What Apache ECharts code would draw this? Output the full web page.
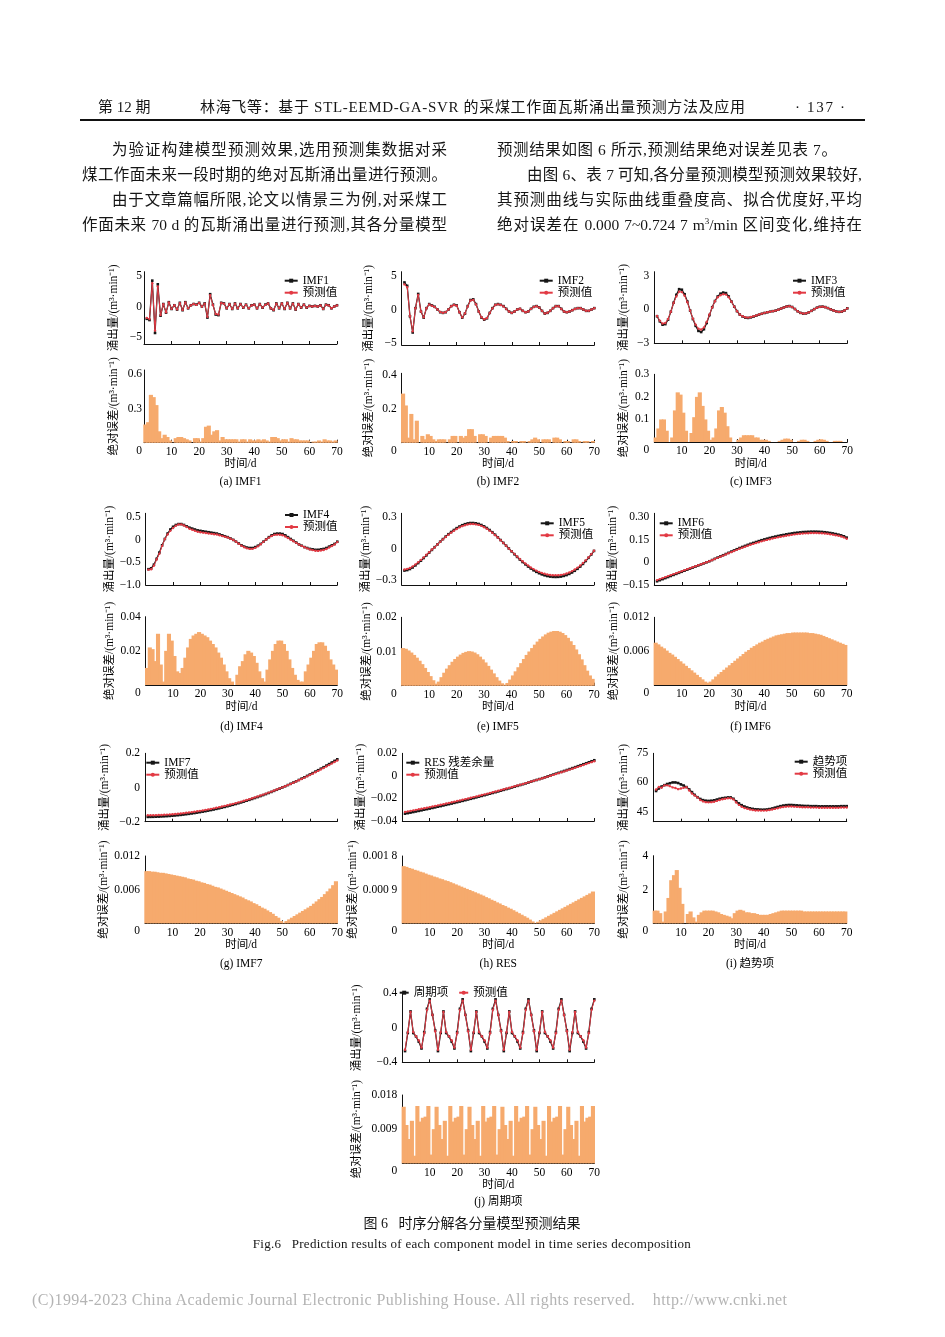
<!DOCTYPE html>
<html><head><meta charset="utf-8">
<script src="https://cdn.jsdelivr.net/npm/echarts@6/dist/echarts.min.js"></script>
<style>
html,body{margin:0;padding:0;background:#fff;}
#page{position:relative;width:945px;height:1337px;overflow:hidden;background:#fff;font-family:'Liberation Serif','Noto Sans CJK SC',serif;color:#151515;}
#chart{position:absolute;left:0;top:0;width:945px;height:1337px;}
.t{position:absolute;white-space:nowrap;line-height:20px;}
.ln{position:absolute;font-size:15.5px;line-height:20px;width:365px;box-sizing:border-box;white-space:nowrap;}
.j{text-align:justify;text-align-last:justify;white-space:normal;}
.ind{padding-left:30px;}
sup{font-size:9px;vertical-align:6px;line-height:0;}
</style></head>
<body><div id="page">
<div id="chart"></div>
<div class="t" style="left:98px;top:97px;font-size:15px;">第 12 期</div>
<div class="t" id="hdTitle" style="left:200px;top:97px;font-size:15px;">林海飞等：基于 STL-EEMD-GA-SVR 的采煤工作面瓦斯涌出量预测方法及应用</div>
<div class="t" id="hdPage" style="left:795px;top:97px;font-size:15px;">· 137 ·</div>
<div style="position:absolute;left:80px;top:119px;width:785px;height:1.6px;background:#111;"></div>

<div class="ln j ind" style="left:82px;top:140px;">为验证构建模型预测效果,选用预测集数据对采</div>
<div class="ln j" style="left:82px;top:165px;">煤工作面未来一段时期的绝对瓦斯涌出量进行预测。</div>
<div class="ln j ind" style="left:82px;top:190px;">由于文章篇幅所限,论文以情景三为例,对采煤工</div>
<div class="ln j" style="left:82px;top:215px;">作面未来 70 d 的瓦斯涌出量进行预测,其各分量模型</div>

<div class="ln" style="left:497px;top:140px;letter-spacing:0.6px;">预测结果如图 6 所示,预测结果绝对误差见表 7。</div>
<div class="ln j ind" style="left:497px;top:165px;">由图 6、表 7 可知,各分量预测模型预测效果较好,</div>
<div class="ln j" style="left:497px;top:190px;">其预测曲线与实际曲线重叠度高、拟合优度好,平均</div>
<div class="ln j" style="left:497px;top:215px;">绝对误差在 0.000 7~0.724 7 m<sup>3</sup>/min 区间变化,维持在</div>

<div class="t" id="figCn" style="top:1214px;font-size:14px;">图 6&nbsp;&nbsp;&nbsp;时序分解各分量模型预测结果</div>
<div class="t" id="figEn" style="top:1234px;font-size:13px;">Fig.6&nbsp;&nbsp;&nbsp;Prediction results of each component model in time series decomposition</div>
<div class="t" id="copy" style="left:32px;top:1290px;font-size:16px;color:#b4b4b4;">(C)1994-2023 China Academic Journal Electronic Publishing House. All rights reserved.&nbsp;&nbsp;&nbsp;&nbsp;http://www.cnki.net</div>
</div>
<script>
// ---------------- data ----------------
const days = [1,2,3,4,5,6,7,8,9,10,11,12,13,14,15,16,17,18,19,20,21,22,23,24,25,26,27,28,29,30,31,32,33,34,35,36,37,38,39,40,41,42,43,44,45,46,47,48,49,50,51,52,53,54,55,56,57,58,59,60,61,62,63,64,65,66,67,68,69,70];

const imf1Actual = [-2.0,-2.2,4.2,-4.3,3.6,-1.5,0.4,-1.0,0.7,-0.4,
 0.2,-0.5,0.6,-0.6,0.7,-0.3,0.2,0.4,0.3,0.6,
 0.0,0.5,-1.8,2.0,0.3,-1.3,-1.4,0.6,0.5,-0.3,
 0.4,-0.4,0.5,-0.3,0.4,-0.2,0.3,-0.3,0.2,0.3,
 -0.3,0.4,-0.2,0.3,0.5,-0.3,-0.6,0.5,-0.3,0.5,
 -0.4,0.6,-0.3,0.5,-0.5,0.4,-0.2,0.3,-0.2,0.1,
 0.0,0.1,0.0,0.2,-0.4,0.3,0.2,-0.3,0.0,0.2];
const imf1Pred = [-1.84,-2.02,3.78,-3.90,3.27,-1.40,0.36,-0.93,0.65,-0.38,
 0.20,-0.46,0.55,-0.55,0.66,-0.27,0.18,0.40,0.26,0.56,
 0.01,0.46,-1.66,1.85,0.23,-1.20,-1.29,0.58,0.45,-0.27,
 0.37,-0.37,0.47,-0.27,0.39,-0.17,0.27,-0.29,0.17,0.28,
 -0.28,0.37,-0.18,0.27,0.48,-0.29,-0.55,0.45,-0.26,0.48,
 -0.37,0.57,-0.29,0.46,-0.47,0.37,-0.18,0.28,-0.18,0.08,
 0.00,0.09,0.01,0.18,-0.39,0.27,0.18,-0.28,0.01,0.18];
const imf1Err = [0.16,0.18,0.42,0.40,0.33,0.10,0.04,0.07,0.05,0.02,
 0.00,0.04,0.05,0.05,0.04,0.03,0.02,0.00,0.04,0.04,
 0.01,0.04,0.14,0.15,0.07,0.10,0.11,0.02,0.05,0.03,
 0.03,0.03,0.03,0.03,0.01,0.03,0.03,0.01,0.03,0.02,
 0.02,0.03,0.02,0.03,0.02,0.01,0.05,0.05,0.04,0.02,
 0.03,0.03,0.01,0.04,0.03,0.03,0.02,0.02,0.02,0.02,
 0.00,0.01,0.01,0.02,0.01,0.03,0.02,0.02,0.01,0.02];

const imf2Actual = [4.0,3.5,-1.0,-3.4,0.2,2.3,-0.3,-1.2,0.2,0.8,
 0.6,0.4,0.0,-0.4,-0.5,-0.4,0.0,0.5,0.7,0.6,
 -0.4,-1.2,-0.6,0.5,1.4,1.5,0.8,-0.3,-1.2,-1.5,
 -1.3,-0.5,0.2,0.7,0.8,0.7,0.5,0.1,-0.3,-0.5,
 -0.3,0.0,0.1,-0.2,-0.4,-0.3,0.1,0.4,0.5,0.3,
 -0.2,-0.6,-0.5,-0.2,0.2,0.5,0.5,0.1,-0.3,-0.4,
 -0.3,-0.1,0.1,0.2,0.2,0.0,-0.2,-0.2,0.0,0.2];
const imf2Pred = [3.71,3.28,-0.97,-3.23,0.18,2.17,-0.30,-1.16,0.18,0.75,
 0.56,0.38,0.01,-0.38,-0.48,-0.38,0.00,0.48,0.66,0.56,
 -0.40,-1.16,-0.57,0.46,1.32,1.42,0.76,-0.30,-1.15,-1.45,
 -1.26,-0.50,0.17,0.66,0.76,0.66,0.46,0.07,-0.29,-0.50,
 -0.29,0.01,0.10,-0.19,-0.39,-0.30,0.09,0.38,0.47,0.28,
 -0.20,-0.58,-0.48,-0.18,0.20,0.47,0.47,0.08,-0.30,-0.39,
 -0.29,-0.10,0.08,0.18,0.19,0.00,-0.19,-0.19,0.00,0.19];
const imf2Err = [0.29,0.22,0.03,0.17,0.02,0.13,0.00,0.04,0.02,0.05,
 0.04,0.02,0.01,0.02,0.02,0.02,0.00,0.02,0.04,0.04,
 0.00,0.04,0.03,0.04,0.08,0.08,0.04,0.00,0.05,0.05,
 0.04,0.00,0.03,0.04,0.04,0.04,0.04,0.03,0.01,0.00,
 0.01,0.01,0.00,0.01,0.01,0.00,0.01,0.02,0.03,0.02,
 0.00,0.02,0.02,0.02,0.00,0.03,0.03,0.02,0.00,0.01,
 0.01,0.00,0.02,0.02,0.01,0.00,0.01,0.01,0.00,0.01];

const imf3Actual = [-0.60,-1.05,-1.35,-1.30,-0.90,-0.20,0.60,1.30,1.80,1.75,
 1.35,0.70,-0.10,-0.85,-1.45,-1.90,-2.00,-1.75,-1.20,-0.50,
 0.20,0.75,1.15,1.40,1.50,1.45,1.15,0.70,0.25,-0.15,
 -0.45,-0.62,-0.72,-0.75,-0.70,-0.63,-0.55,-0.46,-0.38,-0.31,
 -0.25,-0.20,-0.15,-0.10,-0.02,0.08,0.18,0.27,0.30,0.22,
 0.04,-0.16,-0.30,-0.37,-0.35,-0.26,-0.12,0.03,0.16,0.24,
 0.26,0.21,0.12,0.01,-0.09,-0.17,-0.21,-0.19,-0.09,0.10];
const imf3Pred = [-0.58,-0.99,-1.25,-1.20,-0.85,-0.20,0.58,1.16,1.58,1.54,
 1.22,0.65,-0.10,-0.81,-1.34,-1.70,-1.78,-1.59,-1.10,-0.45,
 0.19,0.73,1.09,1.26,1.35,1.32,1.08,0.68,0.25,-0.15,
 -0.44,-0.60,-0.69,-0.72,-0.67,-0.60,-0.53,-0.44,-0.37,-0.30,
 -0.24,-0.20,-0.15,-0.10,-0.02,0.08,0.17,0.26,0.29,0.21,
 0.04,-0.16,-0.30,-0.36,-0.34,-0.26,-0.12,0.03,0.16,0.23,
 0.25,0.20,0.12,0.01,-0.09,-0.17,-0.21,-0.19,-0.09,0.10];
const imf3Err = [0.02,0.06,0.10,0.10,0.05,0.00,0.02,0.14,0.22,0.21,
 0.13,0.05,0.00,0.04,0.11,0.20,0.22,0.16,0.10,0.05,
 0.01,0.02,0.06,0.14,0.155,0.13,0.07,0.02,0.00,0.00,
 0.01,0.02,0.03,0.03,0.03,0.03,0.02,0.02,0.01,0.01,
 0.01,0.005,0.00,0.00,0.00,0.005,0.01,0.015,0.015,0.01,
 0.00,0.00,0.005,0.01,0.01,0.005,0.00,0.00,0.005,0.01,
 0.012,0.01,0.005,0.00,0.00,0.005,0.005,0.005,0.00,0.00];

const imf4Actual = [-0.65,-0.63,-0.55,-0.42,-0.28,-0.12,0.02,0.14,0.23,0.29,
 0.33,0.35,0.35,0.33,0.30,0.27,0.25,0.23,0.21,0.20,
 0.19,0.18,0.17,0.16,0.15,0.14,0.12,0.10,0.08,0.06,
 0.03,0.00,-0.04,-0.08,-0.12,-0.15,-0.17,-0.18,-0.18,-0.16,
 -0.13,-0.09,-0.04,0.01,0.06,0.10,0.13,0.14,0.14,0.13,
 0.10,0.06,0.02,-0.02,-0.06,-0.10,-0.13,-0.16,-0.18,-0.20,
 -0.21,-0.22,-0.22,-0.21,-0.20,-0.18,-0.15,-0.12,-0.09,-0.04];
const imf4Pred = [-0.660,-0.652,-0.571,-0.434,-0.310,-0.132,0.018,0.120,0.200,0.264,
 0.313,0.342,0.343,0.320,0.284,0.248,0.223,0.201,0.180,0.169,
 0.160,0.151,0.142,0.134,0.126,0.118,0.101,0.084,0.068,0.052,
 0.026,-0.002,-0.040,-0.086,-0.131,-0.164,-0.188,-0.200,-0.199,-0.177,
 -0.143,-0.098,-0.044,0.008,0.051,0.085,0.110,0.116,0.114,0.104,
 0.076,0.040,0.005,-0.030,-0.066,-0.103,-0.132,-0.162,-0.188,-0.212,
 -0.226,-0.240,-0.244,-0.235,-0.225,-0.203,-0.170,-0.135,-0.102,-0.049];
const imf4Err = [0.010,0.022,0.021,0.014,0.030,0.012,0.002,0.020,0.030,0.026,
 0.017,0.008,0.007,0.010,0.016,0.022,0.027,0.029,0.030,0.031,
 0.030,0.029,0.028,0.026,0.024,0.022,0.019,0.016,0.012,0.008,
 0.004,0.002,0.000,0.006,0.011,0.014,0.018,0.020,0.019,0.017,
 0.013,0.008,0.004,0.002,0.009,0.015,0.020,0.024,0.026,0.026,
 0.024,0.020,0.015,0.010,0.006,0.003,0.002,0.002,0.008,0.012,
 0.016,0.020,0.024,0.025,0.025,0.023,0.020,0.015,0.012,0.009];

const imf5Actual = [-0.210,-0.205,-0.195,-0.180,-0.160,-0.138,-0.115,-0.090,-0.064,-0.038,
 -0.012,0.014,0.040,0.066,0.091,0.115,0.138,0.159,0.178,0.196,
 0.211,0.224,0.234,0.241,0.245,0.245,0.242,0.236,0.226,0.213,
 0.197,0.178,0.157,0.133,0.108,0.082,0.055,0.028,0.001,-0.026,
 -0.053,-0.079,-0.104,-0.128,-0.150,-0.171,-0.190,-0.207,-0.222,-0.235,
 -0.246,-0.255,-0.262,-0.267,-0.270,-0.271,-0.270,-0.267,-0.261,-0.253,
 -0.242,-0.228,-0.212,-0.193,-0.171,-0.146,-0.118,-0.088,-0.056,-0.022];
const imf5Pred = [-0.199,-0.194,-0.185,-0.170,-0.151,-0.130,-0.108,-0.084,-0.059,-0.034,
 -0.009,0.012,0.039,0.065,0.089,0.111,0.133,0.153,0.171,0.188,
 0.203,0.215,0.224,0.231,0.235,0.235,0.232,0.227,0.218,0.205,
 0.190,0.172,0.152,0.129,0.106,0.081,0.054,0.028,0.000,-0.024,
 -0.050,-0.075,-0.099,-0.121,-0.142,-0.162,-0.180,-0.196,-0.210,-0.222,
 -0.232,-0.241,-0.247,-0.252,-0.254,-0.255,-0.254,-0.251,-0.246,-0.238,
 -0.228,-0.215,-0.200,-0.182,-0.162,-0.138,-0.112,-0.084,-0.053,-0.020];
const imf5Err = [0.0110,0.0108,0.0103,0.0097,0.0090,0.0082,0.0073,0.0063,0.0052,0.0040,
 0.0028,0.0016,0.0006,0.0012,0.0025,0.0038,0.0050,0.0060,0.0070,0.0078,
 0.0085,0.0091,0.0096,0.0099,0.0101,0.0100,0.0097,0.0092,0.0085,0.0077,
 0.0068,0.0058,0.0047,0.0036,0.0025,0.0015,0.0007,0.0003,0.0008,0.0018,
 0.0030,0.0042,0.0054,0.0066,0.0078,0.0090,0.0100,0.0110,0.0120,0.0129,
 0.0137,0.0144,0.0150,0.0155,0.0158,0.0160,0.0160,0.0158,0.0154,0.0148,
 0.0140,0.0130,0.0119,0.0106,0.0092,0.0077,0.0060,0.0044,0.0030,0.0020];

const imf6Actual = [-0.125,-0.118,-0.111,-0.104,-0.097,-0.090,-0.083,-0.076,-0.069,-0.062,
 -0.055,-0.048,-0.041,-0.034,-0.027,-0.020,-0.013,-0.006,0.001,0.008,
 0.016,0.024,0.032,0.040,0.048,0.056,0.064,0.072,0.080,0.088,
 0.096,0.103,0.110,0.117,0.124,0.130,0.136,0.142,0.148,0.153,
 0.158,0.163,0.168,0.172,0.176,0.180,0.183,0.187,0.190,0.193,
 0.196,0.198,0.200,0.202,0.203,0.204,0.205,0.205,0.205,0.204,
 0.203,0.201,0.199,0.196,0.193,0.189,0.185,0.180,0.174,0.165];
const imf6Pred = [-0.1175,-0.1108,-0.1042,-0.0975,-0.0909,-0.0843,-0.0776,-0.0710,-0.0644,-0.0578,
 -0.0512,-0.0446,-0.0380,-0.0314,-0.0248,-0.0182,-0.0116,-0.0050,0.0016,0.0084,
 0.0154,0.0230,0.0305,0.0381,0.0457,0.0533,0.0609,0.0685,0.0761,0.0837,
 0.0913,0.0979,0.1045,0.1111,0.1178,0.1234,0.1291,0.1348,0.1405,0.1453,
 0.1500,0.1548,0.1596,0.1634,0.1672,0.1711,0.1740,0.1779,0.1808,0.1838,
 0.1867,0.1887,0.1907,0.1927,0.1937,0.1947,0.1958,0.1958,0.1959,0.1950,
 0.1941,0.1923,0.1905,0.1877,0.1849,0.1811,0.1773,0.1725,0.1667,0.1579];
const imf6Err = [0.0075,0.0072,0.0068,0.0065,0.0061,0.0057,0.0054,0.0050,0.0046,0.0042,
 0.0038,0.0034,0.0030,0.0026,0.0022,0.0018,0.0014,0.0010,0.0006,0.0004,
 0.0006,0.0010,0.0015,0.0019,0.0023,0.0027,0.0031,0.0035,0.0039,0.0043,
 0.0047,0.0051,0.0055,0.0059,0.0062,0.0066,0.0069,0.0072,0.0075,0.0077,
 0.0080,0.0082,0.0084,0.0086,0.0088,0.0089,0.0090,0.0091,0.0092,0.0092,
 0.0093,0.0093,0.0093,0.0093,0.0093,0.0093,0.0092,0.0092,0.0091,0.0090,
 0.0089,0.0087,0.0085,0.0083,0.0081,0.0079,0.0077,0.0075,0.0073,0.0071];

const imf7Actual = [-0.1720,-0.1718,-0.1714,-0.1709,-0.1702,-0.1694,-0.1685,-0.1675,-0.1663,-0.1649,
 -0.1635,-0.1619,-0.1601,-0.1582,-0.1562,-0.1541,-0.1518,-0.1494,-0.1468,-0.1441,
 -0.1413,-0.1383,-0.1352,-0.1319,-0.1286,-0.1250,-0.1214,-0.1176,-0.1137,-0.1096,
 -0.1054,-0.1011,-0.0966,-0.0920,-0.0872,-0.0823,-0.0773,-0.0722,-0.0669,-0.0614,
 -0.0559,-0.0502,-0.0443,-0.0384,-0.0322,-0.0260,-0.0196,-0.0131,-0.0064,0.0004,
 0.0073,0.0144,0.0216,0.0289,0.0364,0.0440,0.0518,0.0597,0.0677,0.0758,
 0.0841,0.0926,0.1011,0.1099,0.1187,0.1277,0.1368,0.1461,0.1555,0.1650];
const imf7Pred = [-0.1627,-0.1625,-0.1622,-0.1617,-0.1611,-0.1604,-0.1595,-0.1586,-0.1575,-0.1562,
 -0.1549,-0.1534,-0.1517,-0.1499,-0.1480,-0.1461,-0.1439,-0.1416,-0.1392,-0.1366,
 -0.1340,-0.1311,-0.1282,-0.1250,-0.1219,-0.1185,-0.1150,-0.1114,-0.1077,-0.1038,
 -0.0998,-0.0957,-0.0914,-0.0870,-0.0824,-0.0777,-0.0730,-0.0681,-0.0630,-0.0578,
 -0.0525,-0.0471,-0.0415,-0.0358,-0.0299,-0.0240,-0.0179,-0.0118,-0.0054,0.0008,
 0.0072,0.0140,0.0209,0.0279,0.0351,0.0424,0.0499,0.0575,0.0652,0.0730,
 0.0810,0.0891,0.0972,0.1056,0.1140,0.1225,0.1311,0.1399,0.1487,0.1575];
const imf7Err = [0.0093,0.0093,0.0092,0.0092,0.0091,0.0090,0.0090,0.0089,0.0088,0.0087,
 0.0086,0.0085,0.0084,0.0083,0.0082,0.0080,0.0079,0.0078,0.0076,0.0075,
 0.0073,0.0072,0.0070,0.0069,0.0067,0.0065,0.0064,0.0062,0.0060,0.0058,
 0.0056,0.0054,0.0052,0.0050,0.0048,0.0046,0.0043,0.0041,0.0039,0.0036,
 0.0034,0.0031,0.0028,0.0026,0.0023,0.0020,0.0017,0.0013,0.0010,0.0004,
 0.0001,0.0004,0.0007,0.0010,0.0013,0.0016,0.0019,0.0022,0.0025,0.0028,
 0.0031,0.0035,0.0039,0.0043,0.0047,0.0052,0.0057,0.0062,0.0068,0.0075];

const resActual = [-0.03350,-0.03302,-0.03253,-0.03204,-0.03154,-0.03104,-0.03053,-0.03001,-0.02949,-0.02896,
 -0.02843,-0.02789,-0.02734,-0.02679,-0.02623,-0.02566,-0.02509,-0.02452,-0.02393,-0.02334,
 -0.02275,-0.02215,-0.02154,-0.02093,-0.02031,-0.01968,-0.01905,-0.01841,-0.01777,-0.01712,
 -0.01646,-0.01580,-0.01513,-0.01446,-0.01378,-0.01309,-0.01240,-0.01170,-0.01100,-0.01029,
 -0.00957,-0.00885,-0.00812,-0.00739,-0.00665,-0.00590,-0.00515,-0.00439,-0.00362,-0.00285,
 -0.00208,-0.00129,-0.00050,0.00029,0.00109,0.00190,0.00271,0.00353,0.00436,0.00519,
 0.00603,0.00687,0.00772,0.00858,0.00944,0.01031,0.01118,0.01206,0.01295,0.01384];
const resPred = [-0.03197,-0.03151,-0.03105,-0.03058,-0.03011,-0.02963,-0.02915,-0.02865,-0.02816,-0.02766,
 -0.02715,-0.02664,-0.02611,-0.02559,-0.02505,-0.02451,-0.02396,-0.02342,-0.02286,-0.02230,
 -0.02174,-0.02117,-0.02059,-0.02001,-0.01942,-0.01882,-0.01822,-0.01761,-0.01700,-0.01638,
 -0.01576,-0.01513,-0.01450,-0.01386,-0.01322,-0.01256,-0.01191,-0.01124,-0.01058,-0.00990,
 -0.00922,-0.00854,-0.00785,-0.00716,-0.00646,-0.00575,-0.00505,-0.00434,-0.00361,-0.00289,
 -0.00216,-0.00141,-0.00066,0.00009,0.00085,0.00162,0.00239,0.00317,0.00396,0.00475,
 0.00555,0.00635,0.00716,0.00798,0.00880,0.00963,0.01046,0.01130,0.01215,0.01299];
const resErr = [0.00153,0.00151,0.00148,0.00146,0.00143,0.00141,0.00138,0.00136,0.00133,0.00130,
 0.00128,0.00125,0.00123,0.00120,0.00118,0.00115,0.00113,0.00110,0.00107,0.00104,
 0.00101,0.00098,0.00095,0.00092,0.00089,0.00086,0.00083,0.00080,0.00077,0.00074,
 0.00070,0.00067,0.00063,0.00060,0.00056,0.00053,0.00049,0.00046,0.00042,0.00039,
 0.00035,0.00031,0.00027,0.00023,0.00019,0.00015,0.00010,0.00005,0.00001,0.00004,
 0.00008,0.00012,0.00016,0.00020,0.00024,0.00028,0.00032,0.00036,0.00040,0.00044,
 0.00048,0.00052,0.00056,0.00060,0.00064,0.00068,0.00072,0.00076,0.00080,0.00085];

const trendActual = [55.6,56.9,57.9,58.6,59.2,59.6,60.0,60.0,59.7,59.0,
 58.4,57.6,56.4,55.0,53.6,52.4,51.5,50.9,50.6,50.5,
 50.6,50.8,51.2,51.6,51.9,52.1,52.3,52.3,51.6,50.3,
 49.2,48.3,47.6,47.1,46.7,46.4,46.2,46.1,46.0,46.0,
 46.1,46.3,46.6,47.0,47.4,47.8,48.1,48.3,48.4,48.4,
 48.3,48.2,48.1,48.0,47.9,47.9,47.8,47.8,47.8,47.7,
 47.7,47.7,47.7,47.7,47.7,47.7,47.7,47.8,47.8,47.8];
const trendPred = [56.35,57.65,57.3,58.5,58.5,58.1,57.45,57.15,56.55,56.9,
 57.25,57.6,55.85,54.3,53.25,52.3,51.0,50.25,49.85,49.75,
 49.85,50.05,50.5,50.95,51.35,51.6,51.85,51.9,51.3,49.7,
 48.45,47.5,46.85,46.45,46.05,45.8,45.6,45.55,45.5,45.5,
 45.6,45.8,46.05,46.4,46.75,47.1,47.35,47.55,47.65,47.65,
 47.55,47.45,47.35,47.25,47.2,47.2,47.1,47.1,47.1,47.0,
 47.0,47.0,47.0,47.0,47.0,47.0,47.0,47.1,47.1,47.1];
const trendErr = [0.75,0.75,0.6,0.1,0.7,1.5,2.55,2.85,3.15,2.1,
 1.15,0.0,0.55,0.7,0.35,0.1,0.5,0.65,0.75,0.75,
 0.75,0.75,0.7,0.65,0.55,0.5,0.45,0.4,0.3,0.6,
 0.75,0.8,0.75,0.65,0.65,0.6,0.6,0.55,0.5,0.5,
 0.5,0.5,0.55,0.6,0.65,0.7,0.75,0.75,0.75,0.75,
 0.75,0.75,0.75,0.75,0.7,0.7,0.7,0.7,0.7,0.7,
 0.7,0.7,0.7,0.7,0.7,0.7,0.7,0.7,0.7,0.7];

const periodActual = [-0.27,-0.06,0.19,-0.06,-0.10,-0.16,-0.24,-0.05,0.22,0.33,0.15,-0.03,
 -0.27,-0.06,0.19,-0.06,-0.10,-0.16,-0.24,-0.05,0.22,0.33,0.15,-0.03,
 -0.27,-0.06,0.19,-0.06,-0.10,-0.16,-0.24,-0.05,0.22,0.33,0.15,-0.03,
 -0.27,-0.06,0.19,-0.06,-0.10,-0.16,-0.24,-0.05,0.22,0.33,0.15,-0.03,
 -0.27,-0.06,0.19,-0.06,-0.10,-0.16,-0.24,-0.05,0.22,0.33,0.15,-0.03,
 -0.27,-0.06,0.19,-0.06,-0.10,-0.16,-0.24,-0.05,0.22,0.33];
const periodPred = [-0.255,-0.050,0.184,-0.049,-0.098,-0.145,-0.229,-0.062,0.208,0.315,0.148,-0.039,
 -0.255,-0.050,0.184,-0.049,-0.098,-0.145,-0.229,-0.062,0.208,0.315,0.148,-0.039,
 -0.255,-0.050,0.184,-0.049,-0.098,-0.145,-0.229,-0.062,0.208,0.315,0.148,-0.039,
 -0.255,-0.050,0.184,-0.049,-0.098,-0.145,-0.229,-0.062,0.208,0.315,0.148,-0.039,
 -0.255,-0.050,0.184,-0.049,-0.098,-0.145,-0.229,-0.062,0.208,0.315,0.148,-0.039,
 -0.255,-0.050,0.184,-0.049,-0.098,-0.145,-0.229,-0.062,0.208,0.315];
const periodErr = [0.0149,0.0101,0.0064,0.0112,0.0020,0.0151,0.0110,0.0120,0.0123,0.0151,0.0023,0.0090,
 0.0149,0.0101,0.0064,0.0112,0.0020,0.0151,0.0110,0.0120,0.0123,0.0151,0.0023,0.0090,
 0.0149,0.0101,0.0064,0.0112,0.0020,0.0151,0.0110,0.0120,0.0123,0.0151,0.0023,0.0090,
 0.0149,0.0101,0.0064,0.0112,0.0020,0.0151,0.0110,0.0120,0.0123,0.0151,0.0023,0.0090,
 0.0149,0.0101,0.0064,0.0112,0.0020,0.0151,0.0110,0.0120,0.0123,0.0151,0.0023,0.0090,
 0.0149,0.0101,0.0064,0.0112,0.0020,0.0151,0.0110,0.0120,0.0123,0.0151];

// tick values and labels
const imf1Ticks = [-5,0,5], imf1TickLabels = ['−5','0','5'];
const imf1ErrTicks = [0,0.3,0.6], imf1ErrTickLabels = ['0','0.3','0.6'];
const imf2Ticks = [-5,0,5], imf2TickLabels = ['−5','0','5'];
const imf2ErrTicks = [0,0.2,0.4], imf2ErrTickLabels = ['0','0.2','0.4'];
const imf3Ticks = [-3,0,3], imf3TickLabels = ['−3','0','3'];
const imf3ErrTicks = [0,0.1,0.2,0.3], imf3ErrTickLabels = ['0','0.1','0.2','0.3'];
const imf4Ticks = [-1,-0.5,0,0.5], imf4TickLabels = ['−1.0','−0.5','0','0.5'];
const imf4ErrTicks = [0,0.02,0.04], imf4ErrTickLabels = ['0','0.02','0.04'];
const imf5Ticks = [-0.3,0,0.3], imf5TickLabels = ['−0.3','0','0.3'];
const imf5ErrTicks = [0,0.01,0.02], imf5ErrTickLabels = ['0','0.01','0.02'];
const imf6Ticks = [-0.15,0,0.15,0.3], imf6TickLabels = ['−0.15','0','0.15','0.30'];
const imf6ErrTicks = [0,0.006,0.012], imf6ErrTickLabels = ['0','0.006','0.012'];
const imf7Ticks = [-0.2,0,0.2], imf7TickLabels = ['−0.2','0','0.2'];
const imf7ErrTicks = [0,0.006,0.012], imf7ErrTickLabels = ['0','0.006','0.012'];
const resTicks = [-0.04,-0.02,0,0.02], resTickLabels = ['−0.04','−0.02','0','0.02'];
const resErrTicks = [0,0.0009,0.0018], resErrTickLabels = ['0','0.000 9','0.001 8'];
const trendTicks = [45,60,75], trendTickLabels = ['45','60','75'];
const trendErrTicks = [0,2,4], trendErrTickLabels = ['0','2','4'];
const periodTicks = [-0.4,0,0.4], periodTickLabels = ['−0.4','0','0.4'];
const periodErrTicks = [0,0.009,0.018], periodErrTickLabels = ['0','0.009','0.018'];

const seriesNames = ['IMF1','IMF2','IMF3','IMF4','IMF5','IMF6','IMF7','RES 残差余量','趋势项','周期项'];
const predName = '预测值';
const captions = ['(a) IMF1','(b) IMF2','(c) IMF3','(d) IMF4','(e) IMF5','(f) IMF6','(g) IMF7','(h) RES','(i) 趋势项','(j) 周期项'];
const yNameTop = '涌出量/(m³·min⁻¹)', yNameBottom = '绝对误差/(m³·min⁻¹)', xName = '时间/d';

// ---------------- panel wiring (data refs + axis ranges) ----------------
const panels = [
 {a:imf1Actual,p:imf1Pred,e:imf1Err,tt:imf1Ticks,tl:imf1TickLabels,bt:imf1ErrTicks,bl:imf1ErrTickLabels,ymin:-6.09,ymax:5.65,emax:0.638},
 {a:imf2Actual,p:imf2Pred,e:imf2Err,tt:imf2Ticks,tl:imf2TickLabels,bt:imf2ErrTicks,bl:imf2ErrTickLabels,ymin:-5.25,ymax:5.59,emax:0.41},
 {a:imf3Actual,p:imf3Pred,e:imf3Err,tt:imf3Ticks,tl:imf3TickLabels,bt:imf3ErrTicks,bl:imf3ErrTickLabels,ymin:-3,ymax:3.35,emax:0.3},
 {a:imf4Actual,p:imf4Pred,e:imf4Err,tt:imf4Ticks,tl:imf4TickLabels,bt:imf4ErrTicks,bl:imf4ErrTickLabels,ymin:-1,ymax:0.589,emax:0.04},
 {a:imf5Actual,p:imf5Pred,e:imf5Err,tt:imf5Ticks,tl:imf5TickLabels,bt:imf5ErrTicks,bl:imf5ErrTickLabels,ymin:-0.348,ymax:0.338,emax:0.02},
 {a:imf6Actual,p:imf6Pred,e:imf6Err,tt:imf6Ticks,tl:imf6TickLabels,bt:imf6ErrTicks,bl:imf6ErrTickLabels,ymin:-0.15,ymax:0.327,emax:0.012},
 {a:imf7Actual,p:imf7Pred,e:imf7Err,tt:imf7Ticks,tl:imf7TickLabels,bt:imf7ErrTicks,bl:imf7ErrTickLabels,ymin:-0.2,ymax:0.2,emax:0.012},
 {a:resActual,p:resPred,e:resErr,tt:resTicks,tl:resTickLabels,bt:resErrTicks,bl:resErrTickLabels,ymin:-0.04,ymax:0.02,emax:0.0018},
 {a:trendActual,p:trendPred,e:trendErr,tt:trendTicks,tl:trendTickLabels,bt:trendErrTicks,bl:trendErrTickLabels,ymin:39.8,ymax:75,emax:4},
 {a:periodActual,p:periodPred,e:periodErr,tt:periodTicks,tl:periodTickLabels,bt:periodErrTicks,bl:periodErrTickLabels,ymin:-0.4,ymax:0.4,emax:0.018}
];

// ---------------- layout (pixels) ----------------
const layout = [
 {L:144,R:337,tT:271.7,bT:344,tB:370,bB:442.7,gT:24.7,gB:24.7,m:2,lg:[283.7,274.7],cy:482},
 {L:401.7,R:594.3,tT:271.7,bT:345,tB:373.3,bB:442.7,gT:27.4,gB:27.4,m:5,lg:[538.7,274.7],cy:482},
 {L:654.3,R:847.3,tT:271.7,bT:343.3,tB:374.3,bB:442,gT:25,gB:25,m:5,lg:[792,274.7],cy:482},
 {L:145.7,R:337.3,tT:513.3,bT:585,tB:616.7,bB:685,gT:29.7,gB:29.7,m:5,lg:[284,509],cy:726.5},
 {L:401.7,R:594,tT:513.3,bT:585,tB:617.3,bB:685.7,gT:28,gB:28,m:5,lg:[539.7,517.3],cy:726.5},
 {L:654.3,R:846.7,tT:513.3,bT:585,tB:617.3,bB:685,gT:31.6,gB:31.6,m:5,lg:[658.7,517.3],cy:726.5},
 {L:145,R:337.3,tT:753.3,bT:821.7,tB:856,bB:923.3,gT:34,gB:34,m:5,lg:[145.3,756.7],cy:964},
 {L:402.3,R:594.3,tT:753.3,bT:821,tB:856,bB:923.3,gT:34.6,gB:44,m:5,lg:[405.3,756.7],cy:964},
 {L:653.3,R:846.7,tT:753.3,bT:821.7,tB:855.7,bB:923.3,gT:24,gB:24,m:5,lg:[793.7,755.7],cy:964},
 {L:402.3,R:594.3,tT:993.3,bT:1062.3,tB:1095,bB:1163.3,gT:39.6,gB:39.6,m:5,lg:[398.7,986.7],cy:1201.7,horiz:true}
];

const FONT = "'Liberation Serif','Noto Sans CJK SC',serif";
const FS = 11.5;
const BLACK = '#161616', RED = '#e23a44', ORANGE = '#f6aa6d', AXIS = '#111';

function lab(ticks, labels){
  return v => { const i = ticks.findIndex(t => Math.abs(t - v) < 1e-9); return i >= 0 ? labels[i] : ''; };
}

const grid = [], xAxis = [], yAxis = [], series = [], legend = [], graphic = [];
panels.forEach((pd, k) => {
  const g = layout[k];
  const gi = 2 * k;
  grid.push({left:g.L, top:g.tT, width:g.R-g.L, height:g.bT-g.tT, containLabel:false});
  grid.push({left:g.L, top:g.tB, width:g.R-g.L, height:g.bB-g.tB, containLabel:false});
  const baseX = {type:'value', min:0, max:70, interval:10,
    axisLine:{show:true, onZero:false, lineStyle:{color:AXIS, width:1}},
    axisTick:{show:true, inside:true, length:3, lineStyle:{color:AXIS}},
    splitLine:{show:false}};
  xAxis.push(Object.assign({gridIndex:gi, axisLabel:{show:false}}, baseX));
  xAxis.push(Object.assign({gridIndex:gi+1,
    axisLabel:{show:true, margin:3.5, fontSize:FS, color:'#000', fontFamily:FONT, formatter: v => v === 0 ? '' : String(v)},
    name:xName, nameLocation:'middle', nameGap:16, nameTextStyle:{fontSize:FS, color:'#000', fontFamily:FONT}}, baseX));
  const fmtT = lab(pd.tt, pd.tl);
  yAxis.push({gridIndex:gi, type:'value', min:pd.ymin, max:pd.ymax,
    axisLine:{show:true, onZero:false, lineStyle:{color:AXIS, width:1}}, axisTick:{show:false}, splitLine:{show:false},
    axisLabel:{customValues:pd.tt, formatter:fmtT, margin:g.m, fontSize:FS, color:'#000', fontFamily:FONT},
    name:yNameTop, nameLocation:'middle', nameGap:g.gT, nameRotate:90, nameTextStyle:{fontSize:FS, color:'#000', fontFamily:FONT}});
  const fmtB = lab(pd.bt, pd.bl);
  yAxis.push({gridIndex:gi+1, type:'value', min:0, max:pd.emax,
    axisLine:{show:true, onZero:false, lineStyle:{color:AXIS, width:1}}, axisTick:{show:false}, splitLine:{show:false},
    axisLabel:{customValues:pd.bt, formatter: v => Math.abs(v) < 1e-12 ? '{z|0}' : fmtB(v), margin:g.m, fontSize:FS, color:'#000', fontFamily:FONT,
      rich:{z:{fontSize:FS, color:'#000', fontFamily:FONT, padding:[16,0,0,0]}}},
    name:yNameBottom, nameLocation:'middle', nameGap:g.gB, nameRotate:90, nameTextStyle:{fontSize:FS, color:'#000', fontFamily:FONT}});
  series.push({type:'line', name:seriesNames[k], xAxisIndex:gi, yAxisIndex:gi,
    data: days.map((d,i)=>[d, pd.a[i]]), symbol:'rect', symbolSize:2.6, showSymbol:true,
    lineStyle:{color:BLACK, width:1.3}, itemStyle:{color:BLACK}, z:2, animation:false, silent:true});
  series.push({type:'line', name:predName, xAxisIndex:gi, yAxisIndex:gi,
    data: days.map((d,i)=>[d, pd.p[i]]), symbol:'circle', symbolSize:2.4, showSymbol:true,
    lineStyle:{color:RED, width:1}, itemStyle:{color:RED}, z:3, animation:false, silent:true});
  series.push({type:'bar', name:'err'+k, xAxisIndex:gi+1, yAxisIndex:gi+1,
    data: days.map((d,i)=>[d-0.5, pd.e[i]]), barWidth:'150%', barGap:'-100%',
    itemStyle:{color:ORANGE, borderWidth:0}, animation:false, silent:true});
  legend.push({show:true, data:[seriesNames[k], predName], left:g.lg[0], top:g.lg[1],
    orient: g.horiz ? 'horizontal' : 'vertical', itemWidth: g.horiz ? 9 : 13, itemHeight:5,
    itemGap: g.horiz ? 10 : 0, padding:0, selectedMode:false,
    textStyle:{fontSize:FS, lineHeight:12, color:'#000', fontFamily:FONT}});
  graphic.push({type:'text', x:(g.L+g.R)/2, y:g.cy, silent:true,
    style:{text:captions[k], fill:'#000', font:FS+'px '+FONT, textAlign:'center', textVerticalAlign:'middle'}});
});

const chart = echarts.init(document.getElementById('chart'), null, {width:945, height:1337, renderer:'canvas'});
chart.setOption({
  animation:false, backgroundColor:'transparent',
  textStyle:{fontFamily:FONT},
  grid, xAxis, yAxis, series, legend, graphic,
  tooltip:{show:false}
});

// ---- text fitting for page header / captions ----
function fit(el, w){
  el.style.letterSpacing = '0px';
  const n = el.textContent.length;
  const nat = el.getBoundingClientRect().width;
  el.style.letterSpacing = ((w - nat) / Math.max(1, n - 1)) + 'px';
}
function center(el, cx){
  const r = el.getBoundingClientRect();
  el.style.left = (cx - r.width / 2) + 'px';
}
fit(document.getElementById('hdTitle'), 545);
fit(document.getElementById('hdPage'), 50);
fit(document.getElementById('figEn'), 438);
fit(document.getElementById('copy'), 755);
center(document.getElementById('figCn'), 472);
center(document.getElementById('figEn'), 472);
</script>
</body></html>
